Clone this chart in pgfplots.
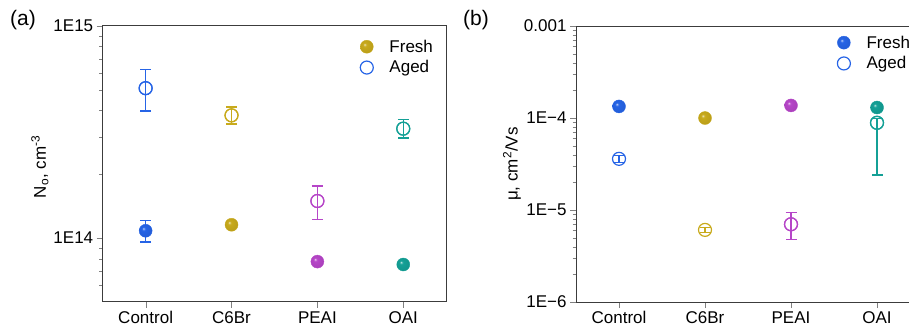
\documentclass[border=0pt]{standalone}
\usepackage{pgfplots}
\pgfplotsset{compat=1.18}
\usepackage{fontspec}
\setmainfont{Liberation Sans}
\definecolor{cblue}{RGB}{38,100,230}
\definecolor{cgold}{RGB}{200,170,28}
\definecolor{cmag}{RGB}{182,70,200}
\definecolor{cteal}{RGB}{20,160,150}
\definecolor{caxis}{RGB}{60,60,60}
\makeatletter
\pgfdeclareradialshading[tikz@ball]{ball}{\pgfqpoint{-9bp}{9bp}}{%
  color(0bp)=(tikz@ball!20!white); color(3.5bp)=(tikz@ball!70!white);
  color(7bp)=(tikz@ball); color(28bp)=(tikz@ball!93!black);
  color(50bp)=(tikz@ball!80!black)}
\makeatother
\pgfplotsset{
  fr/.style={forget plot, only marks, mark=ball, ball color=#1, color=#1, mark size=6.5pt,
    error bars/y dir=both, error bars/y explicit,
    error bars/error bar style={line width=1.5pt},
    error bars/error mark options={rotate=90, line width=1.5pt, mark size=5.5pt}},
  ag/.style={forget plot, only marks, mark=o, color=#1, mark size=6.5pt,
    mark options={fill=white, line width=1.2pt},
    error bars/y dir=both, error bars/y explicit,
    error bars/error bar style={line width=1.5pt},
    error bars/error mark options={rotate=90, line width=1.5pt, mark size=5.5pt}},
  agm/.style={forget plot, only marks, mark=o, color=#1, mark size=6.5pt,
    mark options={fill=white, line width=1.2pt}},
}
\begin{document}
\begin{tikzpicture}[x=1pt,y=1pt]
\begin{axis}[
  scale only axis,
  width=343.5pt, height=276pt,
  ymode=log,
  xmin=0.5, xmax=4.5,
  xtick={1,2,3,4},
  xticklabels={Control,C6Br,PEAI,OAI},
  tick pos=left,
  tick align=outside,
  major tick length=6pt,
  minor tick length=3.5pt,
  axis line style={caxis, line width=1pt},
  font=\fontsize{17}{20}\selectfont,
  legend style={draw=none, fill=none, font=\fontsize{17}{21}\selectfont, column sep=14pt, row sep=3pt, at={(rel axis cs:0.74,0.965)}, anchor=north west},
  legend cell align=left,
  at={(102.7pt,25pt)}, anchor=south west,
  ymin=5e13, ymax=1e15,
  ytick={1e14,1e15}, yticklabels={1E14,1E15},
  minor ytick={6e13,7e13,8e13,9e13,2e14,3e14,4e14,5e14,6e14,7e14,8e14,9e14},
  ylabel={N\textsubscript{o}, cm\textsuperscript{-3}},
  ylabel style={at={(rel axis cs:-0.183,0.49)}, anchor=center},
]
\addplot[fr=cblue] coordinates {(1,1.083e14) += (0,0.127e14) -= (0,0.123e14)};
\addplot[fr=cgold] coordinates {(2,1.156e14) += (0,0.02e14) -= (0,0.02e14)};
\addplot[fr=cmag] coordinates {(3,7.75e13) += (0,0.1e13) -= (0,0.1e13)};
\addplot[fr=cteal] coordinates {(4,7.51e13) += (0,0.1e13) -= (0,0.1e13)};
\addplot[ag=cblue] coordinates {(1,5.09e14) += (0,1.15e14) -= (0,1.12e14)};
\addplot[agm=cblue] coordinates {(1,5.09e14)};
\addplot[ag=cgold] coordinates {(2,3.79e14) += (0,0.36e14) -= (0,0.34e14)};
\addplot[agm=cgold] coordinates {(2,3.79e14)};
\addplot[ag=cmag] coordinates {(3,1.496e14) += (0,0.26e14) -= (0,0.27e14)};
\addplot[agm=cmag] coordinates {(3,1.496e14)};
\addplot[ag=cteal] coordinates {(4,3.28e14) += (0,0.34e14) -= (0,0.32e14)};
\addplot[agm=cteal] coordinates {(4,3.28e14)};
\addlegendimage{only marks, mark=ball, ball color=cgold, color=cgold, mark size=6.5pt}
\addlegendentry{Fresh}
\addlegendimage{only marks, mark=o, cblue, mark size=6.5pt, mark options={line width=1.2pt}}
\addlegendentry{Aged}
\end{axis}
\begin{axis}[
  scale only axis,
  width=344pt, height=276pt,
  ymode=log,
  xmin=0.5, xmax=4.5,
  xtick={1,2,3,4},
  xticklabels={Control,C6Br,PEAI,OAI},
  tick pos=left,
  tick align=outside,
  major tick length=6pt,
  minor tick length=3.5pt,
  axis line style={caxis, line width=1pt},
  font=\fontsize{17}{20}\selectfont,
  legend style={draw=none, fill=none, font=\fontsize{17}{21}\selectfont, column sep=14pt, row sep=3pt, at={(rel axis cs:0.75,0.98)}, anchor=north west},
  legend cell align=left,
  at={(576pt,25pt)}, anchor=south west,
  ymin=1e-6, ymax=1e-3,
  ytick={1e-6,1e-5,1e-4,1e-3}, yticklabels={1E−6,1E−5,1E−4,0.001},
  minor ytick={2e-6,3e-6,4e-6,5e-6,6e-6,7e-6,8e-6,9e-6,2e-5,3e-5,4e-5,5e-5,6e-5,7e-5,8e-5,9e-5,2e-4,3e-4,4e-4,5e-4,6e-4,7e-4,8e-4,9e-4},
  ylabel={μ, cm\textsuperscript{2}/Vs},
  ylabel style={at={(rel axis cs:-0.186,0.5)}, anchor=center},
]
\addplot[fr=cblue] coordinates {(1,1.336e-4) += (0,0.05e-4) -= (0,0.05e-4)};
\addplot[fr=cgold] coordinates {(2,1.0e-4) += (0,0.03e-4) -= (0,0.03e-4)};
\addplot[fr=cmag] coordinates {(3,1.37e-4) += (0,0.04e-4) -= (0,0.04e-4)};
\addplot[fr=cteal] coordinates {(4,1.30e-4) += (0,0.1e-4) -= (0,0.1e-4)};
\addplot[ag=cblue] coordinates {(1,3.6e-5) += (0,0.3e-5) -= (0,0.3e-5)};
\addplot[ag=cgold] coordinates {(2,6.08e-6) += (0,0.4e-6) -= (0,0.4e-6)};
\addplot[ag=cmag] coordinates {(3,7.0e-6) += (0,2.4e-6) -= (0,2.2e-6)};
\addplot[agm=cmag] coordinates {(3,7.0e-6)};
\addplot[ag=cteal] coordinates {(4,8.87e-5) += (0,1.0e-5) -= (0,6.48e-5)};
\addplot[agm=cteal] coordinates {(4,8.87e-5)};
\addlegendimage{only marks, mark=ball, ball color=cblue, color=cblue, mark size=6.5pt}
\addlegendentry{Fresh}
\addlegendimage{only marks, mark=o, cblue, mark size=6.5pt, mark options={line width=1.2pt}}
\addlegendentry{Aged}
\end{axis}
\node[font=\fontsize{21}{24}\selectfont] at (23pt,307pt) {(a)};
\node[font=\fontsize{21}{24}\selectfont] at (476pt,307pt) {(b)};
\pgfresetboundingbox
\path[use as bounding box] (0,0) rectangle (909pt,327pt);
\end{tikzpicture}
\end{document}
